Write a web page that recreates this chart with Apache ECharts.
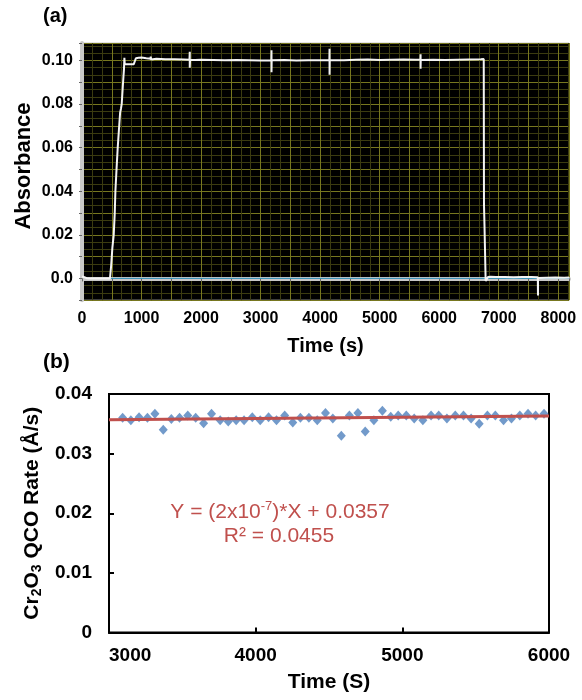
<!DOCTYPE html>
<html><head><meta charset="utf-8">
<script src="https://cdn.jsdelivr.net/npm/echarts@6/dist/echarts.min.js"></script>
<style>html,body{margin:0;padding:0;background:#fff}#c{width:582px;height:700px}</style>
</head><body><div id="c"></div>
<script>
// ---- Panel (a): absorbance trace ----
const timeA = [0, 40, 80, 150, 250, 350, 430, 470, 490, 510,
  533, 550, 561, 580, 600, 620, 640, 655, 667, 690,
  705, 712, 718, 730, 800, 870, 890, 905, 915, 950,
  1000, 1080, 1150, 1155, 1160, 1250, 1400, 1550, 1700, 1805,
  1810, 1810, 1815, 1900, 1905, 2000, 2200, 2400, 2600, 2800,
  3000, 3180, 3183, 3183, 3186, 3400, 3600, 3800, 4000, 4155,
  4158, 4158, 4161, 4400, 4600, 4800, 5000, 5200, 5400, 5600,
  5684, 5687, 5687, 5690, 5900, 6100, 6300, 6500, 6700, 6748,
  6752, 6760, 6780, 6790, 6820, 6864, 6950, 7100, 7250, 7400,
  7550, 7656, 7659, 7659, 7662, 7800, 7950, 8100, 8180];
const absA = [0.0009, 0.0005, 0.0001, -0.0001, 0.0000, -0.0001, 0.0000, 0.0000, 0.0060, 0.0140,
  0.0200, 0.0300, 0.0400, 0.0500, 0.0600, 0.0680, 0.0760, 0.0780, 0.0800, 0.0900,
  0.0960, 0.1012, 0.0982, 0.0980, 0.0982, 0.0983, 0.0984, 0.1010, 0.1016, 0.1012,
  0.1013, 0.1010, 0.1008, 0.1018, 0.1004, 0.1008, 0.1006, 0.1005, 0.1004, 0.1003,
  0.1040, 0.0967, 0.1003, 0.1002, 0.1009, 0.1003, 0.1002, 0.1001, 0.1002, 0.1001,
  0.1000, 0.1001, 0.1047, 0.0946, 0.1001, 0.1002, 0.1000, 0.1001, 0.1001, 0.1002,
  0.1054, 0.0934, 0.1002, 0.1001, 0.1003, 0.1004, 0.1002, 0.1003, 0.1004, 0.1003,
  0.1003, 0.1028, 0.0962, 0.1002, 0.1003, 0.1002, 0.1003, 0.1004, 0.1005, 0.1007,
  0.0340, 0.0250, -0.0012, -0.0010, 0.0006, 0.0008, 0.0006, 0.0007, 0.0005, 0.0007,
  0.0006, 0.0005, -0.0078, 0.0002, 0.0004, 0.0003, 0.0004, 0.0003, 0.0004];
const baseX = [470, 8180];
const baseY = [0, 0];

// ---- Panel (b): Cr2O3 QCO rate ----
const timeB = [3093, 3149, 3205, 3262, 3313, 3370, 3425, 3481, 3537, 3591,
  3645, 3699, 3758, 3813, 3867, 3921, 3977, 4031, 4088, 4142,
  4198, 4253, 4305, 4363, 4420, 4476, 4526, 4584, 4639, 4697,
  4747, 4806, 4864, 4921, 4972, 5027, 5081, 5140, 5196, 5248,
  5304, 5361, 5417, 5469, 5524, 5580, 5634, 5690, 5744, 5801,
  5857, 5909, 5966];
const rateB = [0.0360, 0.0356, 0.0361, 0.0360, 0.0367, 0.0340, 0.0358, 0.0360, 0.0364, 0.0360,
  0.0351, 0.0367, 0.0356, 0.0354, 0.0356, 0.0356, 0.0361, 0.0356, 0.0361, 0.0356,
  0.0364, 0.0352, 0.0360, 0.0360, 0.0356, 0.0368, 0.0359, 0.0330, 0.0364, 0.0368,
  0.0337, 0.0356, 0.0372, 0.0362, 0.0364, 0.0364, 0.0359, 0.0356, 0.0364, 0.0364,
  0.0359, 0.0364, 0.0364, 0.0359, 0.0350, 0.0364, 0.0364, 0.0356, 0.0359, 0.0364,
  0.0367, 0.0364, 0.0367];
const trendX = [3000, 6000];
const trendY = [0.0357, 0.0363];

const ticksAx = [0, 8180];
const ticksAy = [-0.01, 0.108];
const ticksBx = [3000, 6000];
const ticksBy = [0, 0.04];

const FONT = 'Liberation Sans, Arial, sans-serif';
const chart = echarts.init(document.getElementById('c'), null, {renderer: 'canvas'});

const traceData = timeA.map((t, i) => [t, absA[i]]);
const baseData = baseX.map((t, i) => [t, baseY[i]]);
const rateData = timeB.map((t, i) => [t, rateB[i]]);
const trendData = trendX.map((t, i) => [t, trendY[i]]);

const option = {
  animation: false,
  backgroundColor: '#fff',
  textStyle: {fontFamily: FONT},
  grid: [
    {left: 82, right: 13, top: 43, height: 257.2, show: true, backgroundColor: '#000', borderColor: '#c8c8c8', borderWidth: 1},
    {left: 109, right: 33, top: 394, height: 238.5, show: true, backgroundColor: '#fff', borderColor: '#000', borderWidth: 2}
  ],
  xAxis: [
    {gridIndex: 0, type: 'value', min: ticksAx[0], max: ticksAx[1], interval: 500, offset: 2,
      name: 'Time (s)', nameLocation: 'middle', nameGap: 34,
      nameTextStyle: {fontSize: 20, fontWeight: 'bold', color: '#000', fontFamily: FONT},
      axisLine: {show: true, lineStyle: {color: '#c8c8c8', width: 4}},
      axisTick: {show: true, inside: false, length: 3, lineStyle: {color: '#666', width: 1}},
      axisLabel: {margin: 8, fontSize: 16, fontWeight: 'bold', color: '#000', fontFamily: FONT,
        formatter: v => (Math.abs(v % 1000) < 1e-6 && v <= 8000) ? String(v) : ''},
      splitLine: {show: true, lineStyle: {color: '#77771f', width: 1}},
      minorTick: {show: false, splitNumber: 3},
      minorSplitLine: {show: true, lineStyle: {color: '#3b3b10', width: 1}}
    },
    {gridIndex: 1, type: 'value', min: ticksBx[0], max: ticksBx[1], interval: 1000,
      name: 'Time (S)', nameLocation: 'middle', nameGap: 39,
      nameTextStyle: {fontSize: 21, fontWeight: 'bold', color: '#000', fontFamily: FONT},
      axisLine: {show: true, lineStyle: {color: '#000', width: 2}},
      axisTick: {show: true, inside: true, length: 5, lineStyle: {color: '#000', width: 2}},
      axisLabel: {margin: 14, fontSize: 19, fontWeight: 'bold', color: '#000', fontFamily: FONT, alignMinLabel: 'left',
        formatter: v => String(v)},
      splitLine: {show: false}
    }
  ],
  yAxis: [
    {gridIndex: 0, type: 'value', min: ticksAy[0], max: ticksAy[1], interval: 0.01, offset: 2,
      axisLine: {show: true, lineStyle: {color: '#c8c8c8', width: 4}},
      axisTick: {show: true, inside: false, length: 3, lineStyle: {color: '#666', width: 1}},
      axisLabel: {margin: 7, fontSize: 16, fontWeight: 'bold', color: '#000', fontFamily: FONT,
        formatter: v => {
          const k = v * 100, r = Math.round(k);
          if (Math.abs(k - r) > 1e-6 || r < 0 || r % 2 !== 0) return '';
          return r === 0 ? '0.0' : v.toFixed(2);
        }},
      splitLine: {show: true, lineStyle: {color: '#77771f', width: 1}},
      minorTick: {show: false, splitNumber: 3},
      minorSplitLine: {show: true, lineStyle: {color: '#3b3b10', width: 1}}
    },
    {gridIndex: 1, type: 'value', min: ticksBy[0], max: ticksBy[1], interval: 0.01,
      name: '{b|Cr}{s|2}{b|O}{s|3}{b| QCO Rate (Å/s)}', nameLocation: 'middle', nameGap: 64, nameRotate: 90,
      nameTextStyle: {color: '#000', fontFamily: FONT,
        rich: {
          b: {fontSize: 21, fontWeight: 'bold', color: '#000', fontFamily: FONT, lineHeight: 24},
          s: {fontSize: 14, fontWeight: 'bold', color: '#000', fontFamily: FONT, lineHeight: 13, verticalAlign: 'bottom'}
        }},
      axisLine: {show: true, lineStyle: {color: '#000', width: 2}},
      axisTick: {show: true, inside: true, length: 5, lineStyle: {color: '#000', width: 2}},
      axisLabel: {margin: 17, fontSize: 19, fontWeight: 'bold', color: '#000', fontFamily: FONT,
        formatter: v => v === 0 ? '0' : v.toFixed(2)},
      splitLine: {show: false}
    }
  ],
  series: [
    {type: 'line', xAxisIndex: 0, yAxisIndex: 0, data: baseData, symbol: 'none',
      lineStyle: {color: '#2d8fb8', width: 1}, z: 2, silent: true},
    {type: 'line', xAxisIndex: 0, yAxisIndex: 0, data: traceData, symbol: 'none',
      lineStyle: {color: '#f4f4f4', width: 2}, z: 5},
    {type: 'scatter', xAxisIndex: 1, yAxisIndex: 1, data: rateData, symbol: 'diamond', symbolSize: [9, 10],
      itemStyle: {color: '#4f81bd'}, z: 3},
    {type: 'line', xAxisIndex: 1, yAxisIndex: 1, data: trendData, symbol: 'none',
      lineStyle: {color: '#c0504d', width: 3}, z: 4}
  ],
  graphic: [
    {type: 'text', left: 43, top: 6, style: {text: '(a)', font: 'bold 20px ' + FONT, fill: '#000'}},
    {type: 'text', left: 43, top: 352, style: {text: '(b)', font: 'bold 21px ' + FONT, fill: '#000'}},
    {type: 'text', x: 24, y: 166, rotation: Math.PI / 2, style: {
      text: 'Absorbance', align: 'center', verticalAlign: 'middle',
      font: 'bold 22px ' + FONT, fill: '#000'}},
    {type: 'text', x: 280, y: 512, style: {
      text: '{m|Y = (2x10}{p|-7}{m|)*X + 0.0357}', align: 'center', verticalAlign: 'middle',
      rich: {
        m: {fontSize: 21, fontFamily: FONT, fill: '#c0504d', color: '#c0504d', lineHeight: 24},
        p: {fontSize: 13, fontFamily: FONT, fill: '#c0504d', color: '#c0504d', lineHeight: 16, verticalAlign: 'top'}
      }}},
    {type: 'text', x: 279, y: 536, style: {
      text: 'R² = 0.0455', align: 'center', verticalAlign: 'middle',
      font: '21px ' + FONT, fill: '#c0504d'}}
  ]
};
chart.setOption(option);
</script>
</body></html>
